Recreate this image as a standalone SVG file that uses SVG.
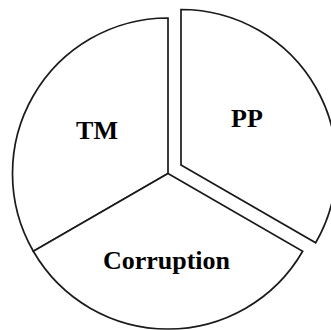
<svg xmlns="http://www.w3.org/2000/svg" width="331" height="330" viewBox="0 0 331 330">
  <style>
    .slice { fill: #ffffff; stroke: #1a1a1a; stroke-width: 1.7; stroke-linejoin: miter; }
    .label { font-family: "Liberation Serif", "Times New Roman", serif; font-weight: bold; font-size: 26px; fill: #000000; text-anchor: middle; }
  </style>
  <rect width="331" height="330" fill="#ffffff"/>
  <!-- pie centre (168,173.5), radius 155.5; PP slice pulled out along its bisector -->
  <g id="slice-tm">
    <path class="slice" d="M168,173.5 L168,18 A155.5,155.5 0 0 0 33.33,251.25 Z"/>
    <text class="label" x="97" y="139">TM</text>
  </g>
  <g id="slice-corruption">
    <path class="slice" d="M168,173.5 L33.33,251.25 A155.5,155.5 0 0 0 302.67,251.25 Z"/>
    <text class="label" x="166.5" y="269">Corruption</text>
  </g>
  <g id="slice-pp">
    <path class="slice" d="M181,165 L181,9.5 A155.5,155.5 0 0 1 315.67,242.75 Z"/>
    <text class="label" x="247" y="126.5">PP</text>
  </g>
</svg>
